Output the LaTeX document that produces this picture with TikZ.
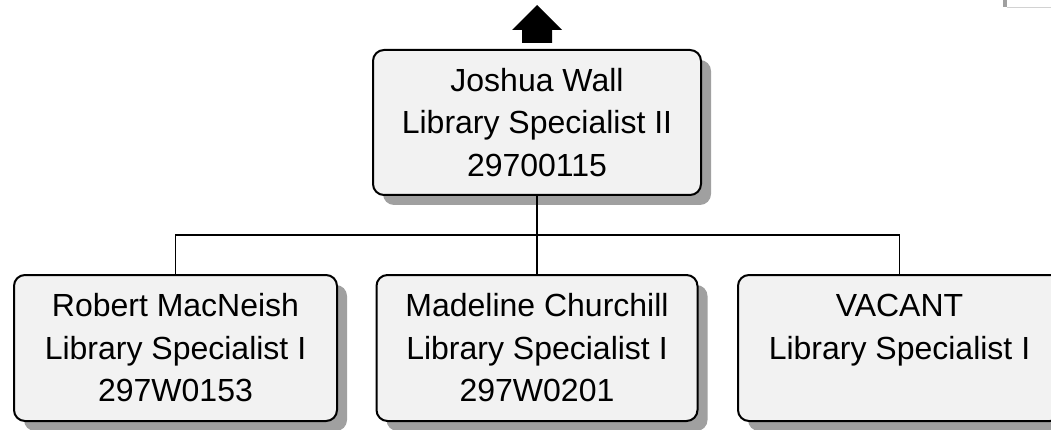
\documentclass[tikz,border=0pt]{standalone}
\usepackage{fontspec}
\setmainfont{Liberation Sans}
\usetikzlibrary{shadows}
\definecolor{boxfill}{HTML}{F2F2F2}
\definecolor{shadowgray}{HTML}{A0A0A0}
\tikzset{
	person/.style={draw,line width=2pt,rounded corners=11pt,fill=boxfill,align=center,
		inner sep=0pt,font=\fontsize{32}{42.5}\selectfont,
		drop shadow={shadow xshift=10pt,shadow yshift=-10pt,fill=shadowgray,opacity=1}},
	link/.style={line width=1.6pt}
}
\begin{document}
\begin{tikzpicture}[x=1pt,y=-1pt]
	\useasboundingbox (0,0) rectangle (1051,430);
	% supervisor
		\node[person,minimum width=328,minimum height=145] (wall) at (537,122.5)
			{Joshua Wall\\Library Specialist II\\29700115};
		\fill (wall.north) ++(-15,-6) -- ++(0,-13) -- ++(-10,0) -- ++(25,-25) -- ++(25,25) -- ++(-10,0) -- ++(0,13) -- cycle;
	% piece of a box above, cut off
		\fill[shadowgray] (1003,0) rectangle (1007,7);
		\draw[gray!35] (1007,7) -- (1051,7);
	% specialists
		\node[person,minimum width=323,minimum height=146] (macneish) at (175.5,348)
			{Robert MacNeish\\Library Specialist I\\297W0153};
		\node[person,minimum width=321,minimum height=146] (churchill) at (537,348)
			{Madeline Churchill\\Library Specialist I\\297W0201};
		\node[person,minimum width=323,minimum height=146] (vacant) at (899.5,348)
			{VACANT\\Library Specialist I\\~};
	% lines
		\coordinate (bus) at (537,235);
		\draw[link] (wall.south) -- (bus);
		\draw[link] (macneish.north) |- (bus) -| (vacant.north);
		\draw[link] (bus) -- (churchill.north);
\end{tikzpicture}
\end{document}
